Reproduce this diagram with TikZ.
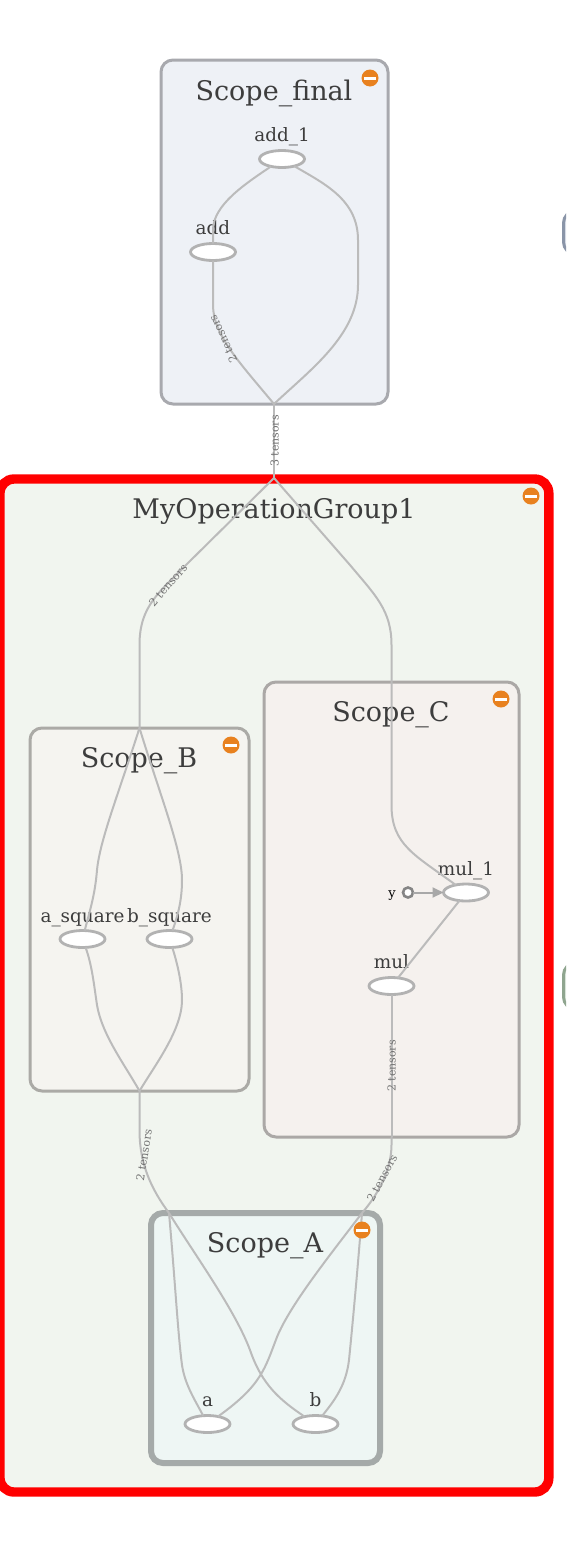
\documentclass[tikz,border=0pt]{standalone}
\usepackage{fontspec}
\setmainfont{DejaVu Serif}
\usetikzlibrary{arrows.meta,shapes.geometric}
\definecolor{txt}{HTML}{3D3D3D}
\definecolor{edgec}{HTML}{BBBBBB}
\definecolor{nodec}{HTML}{B2B2B2}
\definecolor{orangec}{HTML}{E8811F}
\tikzset{
  x=1pt,y=-1pt,
  every node/.style={inner sep=0pt,outer sep=0pt},
  opnode/.style={draw=nodec,line width=2.8pt,fill=white,ellipse,minimum width=45pt,minimum height=17pt},
  oplabel/.style={text=txt,font=\fontsize{18.4}{18.4}\selectfont,anchor=base},
  title/.style={text=txt,font=\fontsize{27}{27}\selectfont,anchor=base},
  scopebox/.style={rounded corners=12pt,line width=3pt},
  edge/.style={draw=edgec,line width=2pt},
  tensor/.style={text=black!55,font=\fontsize{11}{11}\selectfont},
  expandc/.style={circle,fill=orangec,minimum size=17pt},
}
\begin{document}
\begin{tikzpicture}
\useasboundingbox (0,0) rectangle (566,1542);
\clip (0,0) rectangle (566,1542);
\fill[white] (0,0) rectangle (566,1542);
% off-screen neighbours
\draw[scopebox,draw={rgb,255:red,138;green,149;blue,168},fill={rgb,255:red,225;green,230;blue,238}] (563.5,211) rectangle (640,254);
\draw[scopebox,draw={rgb,255:red,143;green,165;blue,143},fill={rgb,255:red,228;green,238;blue,228}] (563.5,963) rectangle (640,1009);
% boxes
\draw[scopebox,draw=red,line width=9.4pt,fill={rgb,255:red,241;green,245;blue,239},rounded corners=14pt] (0,479) rectangle (548.8,1492);
\draw[scopebox,draw={rgb,255:red,168;green,169;blue,174},fill={rgb,255:red,238;green,241;blue,246}] (161,60) rectangle (388,404);
\draw[scopebox,draw={rgb,255:red,171;green,170;blue,166},fill={rgb,255:red,245;green,244;blue,240}] (30,728) rectangle (249,1091);
\draw[scopebox,draw={rgb,255:red,171;green,168;blue,166},fill={rgb,255:red,245;green,241;blue,238}] (264,682) rectangle (519,1137);
\draw[scopebox,line width=6pt,draw={rgb,255:red,165;green,170;blue,169},fill={rgb,255:red,238;green,246;blue,244}] (151,1213) rectangle (380,1463);
% titles
\node[title] (tfinal) at (274,100) {Scope\_final};
\node[title] (tmain) at (274,518) {MyOperationGroup1};
\node[title] (tc) at (391,721) {Scope\_C};
\node[title] (tb) at (139,767) {Scope\_B};
\node[title] (ta) at (265,1252) {Scope\_A};
% op labels
\node[oplabel] (ladd1) at (282,141) {add\_1};
\node[oplabel] (ladd) at (213,234) {add};
\node[oplabel] (lmul1) at (466,875) {mul\_1};
\node[oplabel] (lmul) at (391.5,968) {mul};
\node[oplabel] (las) at (82.5,922) {a\_square};
\node[oplabel] (lbs) at (169.5,922) {b\_square};
\node[oplabel] (la) at (207.5,1406) {a};
\node[oplabel] (lb) at (315.5,1406) {b};
\node[text=black,font=\fontsize{13}{13}\selectfont,anchor=base] (ly) at (392,897) {y};
% ops
\node[opnode] (add1) at (282,159) {};
\node[opnode] (add) at (213,252) {};
\node[opnode] (mul1) at (466,892.5) {};
\node[opnode] (mul) at (391.5,986) {};
\node[opnode] (asq) at (82.5,939) {};
\node[opnode] (bsq) at (169.5,939) {};
\node[opnode] (a) at (207.5,1424) {};
\node[opnode] (b) at (315.5,1424) {};
\node[circle,draw=black!48,line width=2.6pt,fill=white,minimum size=10pt] (y) at (408,892.5) {};
% junctions
\coordinate (fbot) at (274,404);
\coordinate (mtop) at (274,478);
\coordinate (btop) at (139.5,728);
\coordinate (bbot) at (139.5,1091);
\coordinate (cbot) at (391.5,1137);
\coordinate (aleft) at (169,1213);
\coordinate (aright) at (362,1213);
% edges
\draw[edge] (add1) .. controls (245,184) and (213,205) .. (213,230) -- (add);
\draw[edge] (add) -- (213,305) .. controls (213,335) and (240,363) .. (fbot);
\draw[edge] (add1) .. controls (325,184) and (358,200) .. (358,240) -- (358,285) .. controls (358,335) and (310,370) .. (fbot);
\draw[edge] (fbot) -- (mtop);
\draw[edge] (mtop) -- (188,563) .. controls (160,592) and (139.5,605) .. (139.5,645) -- (btop);
\draw[edge] (mtop) -- (350,565) .. controls (375,595) and (391.5,610) .. (391.5,645) -- (391.5,805) .. controls (391.5,845) and (415,855) .. (mul1);
\draw[edge] (btop) .. controls (118,795) and (100,840) .. (97,870) .. controls (95,895) and (90,910) .. (asq);
\draw[edge] (btop) .. controls (160,795) and (182,850) .. (182,880) .. controls (182,900) and (178,915) .. (bsq);
\draw[edge] (asq) .. controls (92,965) and (94,985) .. (97,1005) .. controls (102,1035) and (125,1065) .. (bbot);
\draw[edge] (bsq) .. controls (178,965) and (182,985) .. (182,1000) .. controls (182,1030) and (155,1065) .. (bbot);
\draw[edge] (bbot) -- (139.5,1130) .. controls (139.5,1165) and (152,1190) .. (aleft);
\draw[edge] (aleft) .. controls (175,1280) and (178,1335) .. (182,1365) .. controls (185,1385) and (195,1400) .. (a);
\draw[edge] (aleft) .. controls (195,1255) and (235,1310) .. (250,1350) .. controls (262,1385) and (280,1400) .. (b);
\draw[edge] (aright) .. controls (330,1255) and (290,1305) .. (277,1337) .. controls (265,1368) and (262,1385) .. (a);
\draw[edge] (aright) .. controls (358,1265) and (353,1320) .. (349,1360) .. controls (346,1385) and (335,1400) .. (b);
\draw[edge] (cbot) -- (391.5,1145) .. controls (391.5,1165) and (382,1190) .. (aright);
\draw[edge] (mul) -- (cbot);
\draw[edge] (mul1) -- (mul);
\draw[edge,draw=edgec!90!black,-{Triangle[length=11pt,width=10pt]}] (y) -- (mul1);
% edge labels
\node[tensor,rotate=90] (e1) at (274.5,441) {3 tensors};
\node[tensor,rotate=115] (e2) at (223,339) {2 tensors};
\node[tensor,rotate=49] (e3) at (168,585) {2 tensors};
\node[tensor,rotate=90] (e4) at (391.5,1066) {2 tensors};
\node[tensor,rotate=81] (e5) at (144,1155) {2 tensors};
\node[tensor,rotate=62] (e6) at (382,1178) {2 tensors};
% expand icons
\foreach \n/\px/\py in {i1/370/78,i2/531/496,i3/501/699,i4/231/745,i5/362/1230}{
  \node[expandc] (\n) at (\px,\py) {};
  \fill[white] (\px-6,\py-1.5) rectangle (\px+6,\py+1.5);
}
\end{tikzpicture}
\end{document}
